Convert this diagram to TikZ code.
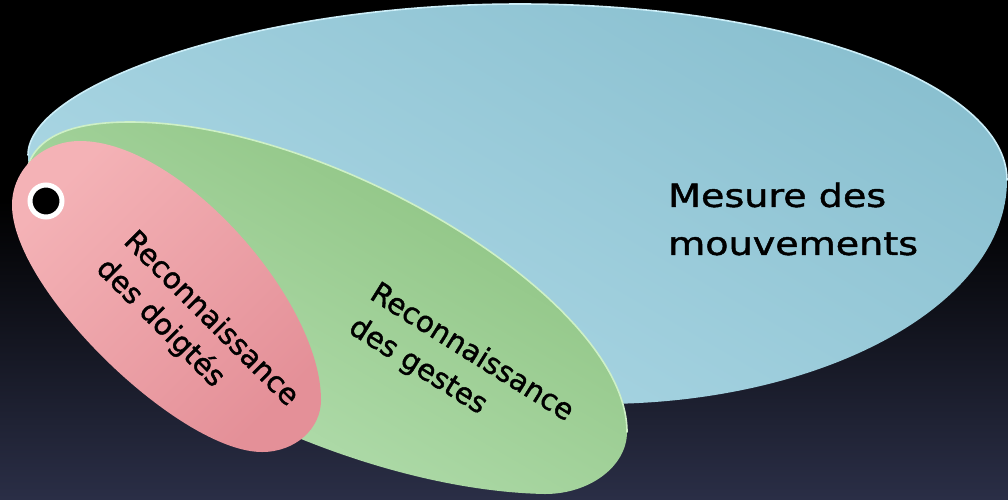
\documentclass[tikz,border=0pt]{standalone}
\usepackage{fontspec}
\setmainfont[FakeBold=1.4]{DejaVu Sans}
\newfontfamily\largeface[FakeStretch=1.19,FakeBold=1.4]{DejaVu Sans}
\definecolor{fondbas}{RGB}{42,46,70}
\definecolor{bleuclair}{RGB}{174,217,230}
\definecolor{bleufonce}{RGB}{138,192,208}
\definecolor{bleubord}{RGB}{204,238,248}
\definecolor{vertclair}{RGB}{182,224,178}
\definecolor{vertfonce}{RGB}{140,194,128}
\definecolor{vertbord}{RGB}{206,240,198}
\definecolor{roseclair}{RGB}{244,178,182}
\definecolor{rosefonce}{RGB}{228,144,152}

\begin{document}
\begin{tikzpicture}[x=1pt,y=-1pt]
\tikzstyle{bord}=[line width=1.6pt,line cap=round]
\tikzset{etiquette/.style={align=left,inner sep=0pt,text=black,font=\fontsize{29}{39}\selectfont}}
\useasboundingbox (0,0) rectangle (1008,499);
\fill[black] (0,0) rectangle (1008,499);
\shade[top color=black,bottom color=fondbas] (0,200) rectangle (1008,499);

\coordinate (bL) at (28,155);
\coordinate (bT) at (520,4);
\coordinate (bR) at (1007,180);
\coordinate (bB) at (600,404);
\shade[top color=bleufonce,bottom color=bleuclair,shading angle=-30]
  (bL) .. controls (28,85) and (255,4) .. (bT)
  .. controls (789,4) and (1007,83) .. (bR)
  .. controls (1007,304) and (825,404) .. (bB)
  .. controls (285,404) and (30,290) .. cycle;
\draw[bord,bleubord] (bL) .. controls (28,85) and (255,4) .. (bT)
  .. controls (789,4) and (1007,83) .. (bR);

\coordinate (vL) at (25,185);
\coordinate (vT) at (130,122);
\coordinate (vR) at (627,432);
\coordinate (vB) at (545,494);
\shade[top color=vertfonce,bottom color=vertclair,shading angle=-30]
  (vL) .. controls (25,140) and (65,122) .. (vT)
  .. controls (330,122) and (627,300) .. (vR)
  .. controls (627,466) and (590,494) .. (vB)
  .. controls (330,490) and (25,330) .. cycle;
\draw[bord,vertbord] (vL) .. controls (25,140) and (65,122) .. (vT)
  .. controls (330,122) and (627,300) .. (vR);

\coordinate (rL) at (12,205);
\coordinate (rT) at (80,141);
\coordinate (rR) at (321,400);
\coordinate (rB) at (262,452);
\shade[top color=roseclair,bottom color=rosefonce,shading angle=45]
  (rL) .. controls (12,170) and (42,141) .. (rT)
  .. controls (180,141) and (321,300) .. (rR)
  .. controls (321,429) and (295,452) .. (rB)
  .. controls (180,452) and (12,290) .. cycle;

\node[circle,fill=black,draw=white,line width=5pt,minimum size=32pt,inner sep=0pt] (point) at (46,201) {};

\node[etiquette,anchor=west,font=\largeface\fontsize{32}{48}\selectfont] (mesure) at (668,219) {Mesure des\\mouvements};
\node[etiquette,rotate=-45] (doigtes) at (197,333) {Reconnaissance\\des doigtés};
\node[etiquette,rotate=-32,font=\fontsize{29}{40}\selectfont] (gestes) at (461,370) {Reconnaissance\\des gestes};
\end{tikzpicture}
\end{document}
